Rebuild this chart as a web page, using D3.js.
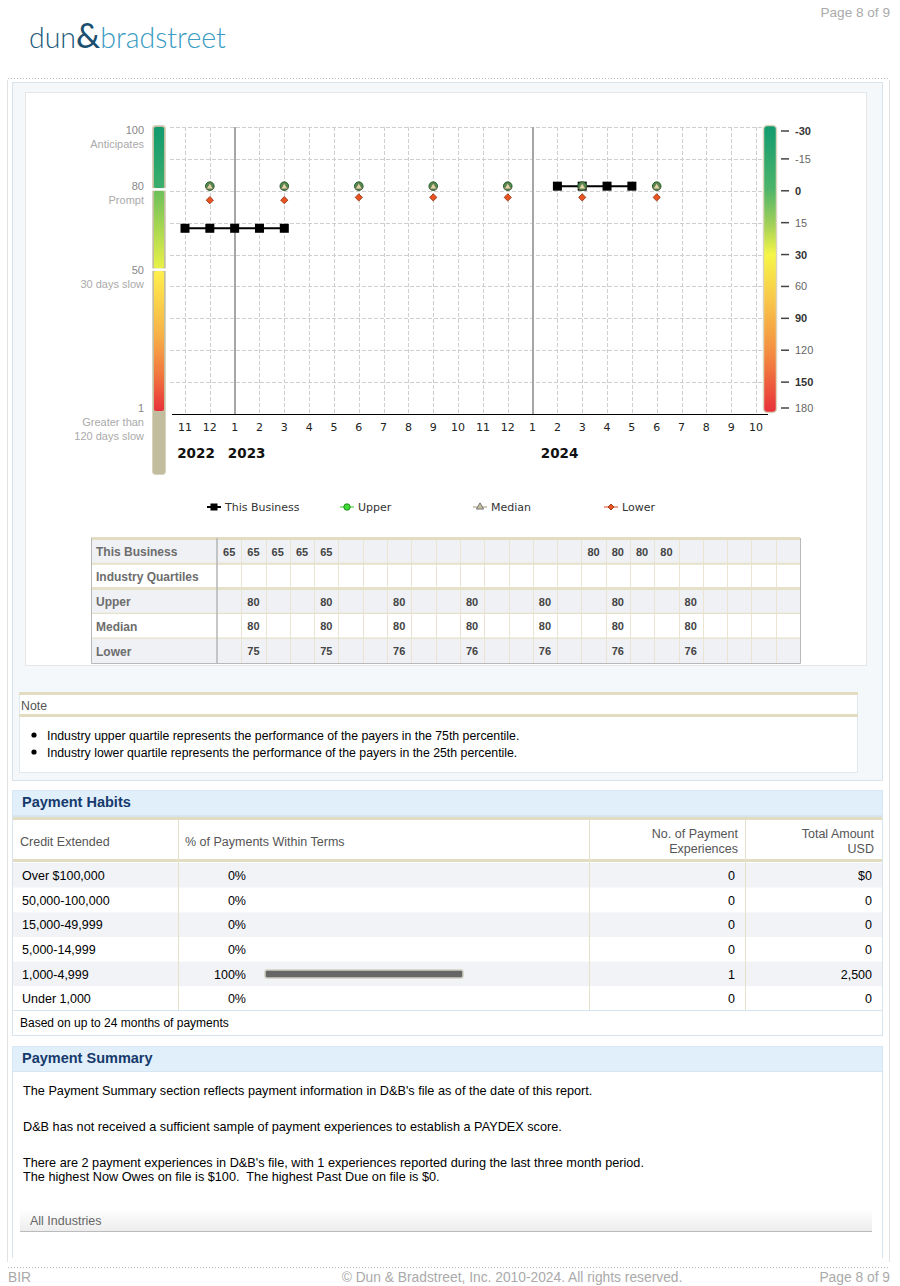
<!DOCTYPE html>
<html><head><meta charset="utf-8">
<script src="https://cdn.jsdelivr.net/npm/d3@7"></script>
<style>body{margin:0;background:#fff}svg{display:block}text{white-space:pre}</style>
</head><body><svg id="c" width="900" height="1286"></svg>
<script>
// ---------- DATA ----------
const months = ["11","12","1","2","3","4","5","6","7","8","9","10","11","12","1","2","3","4","5","6","7","8","9","10"];
const yearLabels = [{label:"2022", start:0},{label:"2023", start:2},{label:"2024", start:14}];
const businessScores = [65,65,65,65,65,null,null,null,null,null,null,null,null,null,null,80,80,80,80,null,null,null,null,null];
const upperQuartile  = [null,80,null,null,80,null,null,80,null,null,80,null,null,80,null,null,80,null,null,80,null,null,null,null];
const medianQuartile = [null,80,null,null,80,null,null,80,null,null,80,null,null,80,null,null,80,null,null,80,null,null,null,null];
const lowerQuartile  = [null,75,null,null,75,null,null,76,null,null,76,null,null,76,null,null,76,null,null,76,null,null,null,null];
const paydexLabels = [{v:100,name:["Anticipates"]},{v:80,name:["Prompt"]},{v:50,name:["30 days slow"]},{v:1,name:["Greater than","120 days slow"]}];
const daysTicks = ["-30","-15","0","15","30","60","90","120","150","180"];
const daysBold = ["-30","0","30","90","150"];
const legendLabels = ["This Business","Upper","Median","Lower"];
const tableRowLabels = ["This Business","Industry Quartiles","Upper","Median","Lower"];
const noteLines = ["Industry upper quartile represents the performance of the payers in the 75th percentile.",
                   "Industry lower quartile represents the performance of the payers in the 25th percentile."];
const creditRanges = ["Over $100,000","50,000-100,000","15,000-49,999","5,000-14,999","1,000-4,999","Under 1,000"];
const pctWithinTerms = [0,0,0,0,100,0];
const paymentCounts = [0,0,0,0,1,0];
const totalAmounts = ["$0","0","0","0","2,500","0"];
const summaryLines = ["The Payment Summary section reflects payment information in D&B's file as of the date of this report.",
  "D&B has not received a sufficient sample of payment experiences to establish a PAYDEX score.",
  "There are 2 payment experiences in D&B's file, with 1 experiences reported during the last three month period.",
  "The highest Now Owes on file is $100.  The highest Past Due on file is $0."];

// ---------- SETUP ----------
const ARIAL = "'Liberation Sans', Arial, sans-serif";
const VERD = "'DejaVu Sans', Verdana, sans-serif";
const svg = d3.select("#c");
const defs = svg.append("defs");
function lg(id, stops){
  const g = defs.append("linearGradient").attr("id",id).attr("x1",0).attr("y1",0).attr("x2",0).attr("y2",1);
  stops.forEach(s=>g.append("stop").attr("offset",s[0]).attr("stop-color",s[1]));
}
lg("gA",[[0,"#129a6f"],[1,"#3dae6b"]]);
lg("gB",[[0,"#6cbf5a"],[1,"#e9f247"]]);
lg("gC",[[0,"#fff04c"],[0.45,"#f7b247"],[0.75,"#f1753e"],[1,"#e8303a"]]);
lg("gR",[[0,"#129a6f"],[0.22,"#4cb46a"],[0.35,"#a6d257"],[0.45,"#f6f646"],[0.6,"#f9c94a"],[0.8,"#f38a40"],[1,"#e8303a"]]);
lg("gAll",[[0,"#ffffff"],[1,"#ededed"]]);

// ---------- PAGE FRAME ----------
svg.append("text").attr("x",890).attr("y",17).attr("text-anchor","end").attr("font-family",ARIAL).attr("font-size",13.6).attr("fill","#aaa").text("Page 8 of 9");
const logo = svg.append("text").attr("x",29).attr("y",48).attr("font-family","Lato, 'Open Sans', sans-serif").attr("font-weight",300).attr("font-size",28.5);
logo.append("tspan").attr("fill","#1d5a7b").text("dun");
logo.append("tspan").attr("fill","#1b4f70").attr("font-size",34).attr("font-weight",400).text("&");
logo.append("tspan").attr("fill","#3a9cc2").text("bradstreet");

svg.append("line").attr("x1",8).attr("x2",890).attr("y1",78.5).attr("y2",78.5).attr("stroke","#bbb").attr("stroke-dasharray","1,2");
svg.append("line").attr("x1",8).attr("x2",890).attr("y1",1267.5).attr("y2",1267.5).attr("stroke","#bbb").attr("stroke-dasharray","1,2");
svg.append("line").attr("x1",7.5).attr("x2",7.5).attr("y1",80).attr("y2",1262).attr("stroke","#e2e2e2");
svg.append("line").attr("x1",889.5).attr("x2",889.5).attr("y1",80).attr("y2",1262).attr("stroke","#e2e2e2");

// ---------- CHART SECTION ----------
svg.append("rect").attr("x",12.5).attr("y",82.5).attr("width",870).attr("height",698).attr("fill","#f4f8fb").attr("stroke","#d7e4ee");
svg.append("rect").attr("x",25.5).attr("y",92.5).attr("width",841).attr("height",573).attr("fill","#fff").attr("stroke","#e6e6e6");

const x = d3.scalePoint().domain(d3.range(months.length)).range([185,756]);
const yPay = d3.scaleLinear().domain([1,100]).range([408,130]);
const yDays = d3.scalePoint().domain(daysTicks).range([127,414]);
const g = svg.append("g");

// horizontal grid
g.selectAll(".hg").data(daysTicks.slice(0,-1)).join("line")
  .attr("x1",170).attr("x2",762).attr("y1",d=>Math.round(yDays(d))+0.5).attr("y2",d=>Math.round(yDays(d))+0.5)
  .attr("stroke","#cfcfcf").attr("stroke-dasharray","4,2");
// vertical grid
const yearStarts = yearLabels.slice(1).map(d=>d.start);
g.selectAll(".vg").data(d3.range(months.length).filter(i=>!yearStarts.includes(i))).join("line")
  .attr("x1",i=>Math.round(x(i))+0.5).attr("x2",i=>Math.round(x(i))+0.5).attr("y1",127).attr("y2",414)
  .attr("stroke","#cfcfcf").attr("stroke-dasharray","4,2");
g.selectAll(".yb").data(yearStarts).join("line")
  .attr("x1",i=>Math.round(x(i))).attr("x2",i=>Math.round(x(i))).attr("y1",127).attr("y2",414)
  .attr("stroke","#a6a6a6").attr("stroke-width",2);
// x axis
g.append("line").attr("x1",172).attr("x2",768).attr("y1",414.5).attr("y2",414.5).attr("stroke","#000");
g.selectAll(".ml").data(months).join("text")
  .attr("x",(d,i)=>x(i)).attr("y",431).attr("text-anchor","middle")
  .attr("font-family",VERD).attr("font-size",11).attr("fill","#222").text(d=>d);
const yearNudge = [11,12,27];
g.selectAll(".yl").data(yearLabels).join("text")
  .attr("x",(d,i)=>x(d.start)+yearNudge[i]).attr("y",458).attr("text-anchor","middle")
  .attr("font-family",VERD).attr("font-weight","bold").attr("font-size",13.5).attr("fill","#111").text(d=>d.label);

// left colour bar
g.append("rect").attr("x",152.5).attr("y",125.5).attr("width",13).attr("height",349).attr("rx",3).attr("fill","#c2bd9f").attr("stroke","#d6d2bb");
const sepA = yPay(80)+3, sepB = yPay(50)-1;
const segs = [[127,sepA-1,"gA"],[sepA+1.5,sepB-1,"gB"],[sepB+1.5,411,"gC"]];
g.selectAll(".seg").data(segs).join("rect")
  .attr("x",154).attr("width",10).attr("y",d=>d[0]).attr("height",d=>d[1]-d[0]).attr("rx",2).attr("fill",d=>`url(#${d[2]})`);
g.selectAll(".sep").data([sepA,sepB]).join("line")
  .attr("x1",152).attr("x2",166).attr("y1",d=>d+0.25).attr("y2",d=>d+0.25).attr("stroke","#fff").attr("stroke-width",2.5);

// left labels
const pl = g.selectAll(".pl").data(paydexLabels).join("g");
pl.append("text").attr("x",144).attr("y",d=>yPay(d.v)+4).attr("text-anchor","end")
  .attr("font-family",ARIAL).attr("font-size",11).attr("fill","#888").text(d=>d.v);
pl.each(function(d){
  d3.select(this).selectAll(".nm").data(d.name).join("text")
    .attr("x",144).attr("y",(n,j)=>yPay(d.v)+18+j*14).attr("text-anchor","end")
    .attr("font-family",ARIAL).attr("font-size",11).attr("fill","#aaa").text(n=>n);
});

// right colour bar + days axis
g.append("rect").attr("x",763.5).attr("y",125.5).attr("width",13).attr("height",287).attr("rx",4)
  .attr("fill","url(#gR)").attr("stroke","#d9d5bd").attr("stroke-width",1.5);
const dy = d=>Math.max(131,Math.min(408,yDays(d)));
g.selectAll(".rt").data(daysTicks).join("line")
  .attr("x1",781).attr("x2",789).attr("y1",d=>dy(d)).attr("y2",d=>dy(d)).attr("stroke","#444").attr("stroke-width",1.5);
g.selectAll(".rl").data(daysTicks).join("text")
  .attr("x",795).attr("y",d=>dy(d)+4).attr("font-family",ARIAL).attr("font-size",11)
  .attr("font-weight",d=>daysBold.includes(d)?"bold":"normal").attr("fill",d=>daysBold.includes(d)?"#333":"#666").text(d=>d);

// business line
const line = d3.line().defined(d=>d!=null).x((d,i)=>x(i)).y(d=>yPay(d));
g.append("path").attr("d",line(businessScores)).attr("fill","none").attr("stroke","#000").attr("stroke-width",2);
g.selectAll(".bs").data(businessScores.map((v,i)=>({v,i})).filter(d=>d.v!=null)).join("rect")
  .attr("x",d=>x(d.i)-4.5).attr("y",d=>yPay(d.v)-4.5).attr("width",9).attr("height",9).attr("fill","#000");
// quartile markers
const pts = arr=>arr.map((v,i)=>({v,i})).filter(d=>d.v!=null);
g.selectAll(".up").data(pts(upperQuartile)).join("circle")
  .attr("cx",d=>x(d.i)).attr("cy",d=>yPay(d.v)).attr("r",4.3).attr("fill","#4c8d4c").attr("stroke","#2c5c30").attr("stroke-width",1);
g.selectAll(".md").data(pts(medianQuartile)).join("path")
  .attr("d",d3.symbol(d3.symbolTriangle,22)).attr("transform",d=>`translate(${x(d.i)},${yPay(d.v)+0.8})`)
  .attr("fill","#ddd5a8").attr("stroke","#6b6a4c").attr("stroke-width",0.8);
g.selectAll(".lw").data(pts(lowerQuartile)).join("path")
  .attr("d",d3.symbol(d3.symbolSquare,26)).attr("transform",d=>`translate(${x(d.i)},${yPay(d.v)}) rotate(45)`)
  .attr("fill","#ea521f").attr("stroke","#8e3516").attr("stroke-width",0.8);

// legend
const legX = [207,340,473,604];
const leg = g.selectAll(".lg").data(legendLabels).join("g").attr("transform",(d,i)=>`translate(${legX[i]},507)`);
const legCol = ["#000","#33cc22","#a09a78","#e0481a"];
leg.append("line").attr("x1",0).attr("x2",14).attr("stroke",(d,i)=>legCol[i]).attr("stroke-width",(d,i)=>i==0?2:1);
leg.each(function(d,i){
  const s = d3.select(this);
  if(i==0) s.append("rect").attr("x",3.5).attr("y",-3.5).attr("width",7).attr("height",7).attr("fill","#000");
  if(i==1) s.append("circle").attr("cx",7).attr("r",3.2).attr("fill","#3ddd33").attr("stroke","#1f8a1f");
  if(i==2) s.append("path").attr("d",d3.symbol(d3.symbolTriangle,22)).attr("transform","translate(7,0)").attr("fill","#c8c2a2").attr("stroke","#777");
  if(i==3) s.append("path").attr("d",d3.symbol(d3.symbolSquare,18)).attr("transform","translate(7,0) rotate(45)").attr("fill","#ea521f").attr("stroke","#8e3516").attr("stroke-width",0.8);
});
leg.append("text").attr("x",18).attr("y",4).attr("font-family",VERD).attr("font-size",11).attr("fill","#333").text(d=>d);

// chart data table
const tRows = [businessScores,[],upperQuartile,medianQuartile,lowerQuartile];
const ty = d3.scaleBand().domain(d3.range(tableRowLabels.length)).range([539,663]);
const tx = d3.scaleBand().domain(d3.range(months.length)).range([217,800]);
const tb = g.append("g");
tb.selectAll(".tr").data(tableRowLabels).join("rect")
  .attr("x",91).attr("width",709).attr("y",(d,i)=>ty(i)).attr("height",ty.bandwidth())
  .attr("fill",(d,i)=>i%2==0?"#eff1f5":"#fff");
tb.selectAll(".tc").data(d3.range(1,months.length)).join("line")
  .attr("x1",i=>Math.round(tx(i))+0.5).attr("x2",i=>Math.round(tx(i))+0.5).attr("y1",538).attr("y2",663).attr("stroke","#e9e5d2");
tb.selectAll(".ts").data(d3.range(1,tableRowLabels.length)).join("line")
  .attr("x1",91).attr("x2",800).attr("y1",i=>ty(i)).attr("y2",i=>ty(i))
  .attr("stroke","#e6e1c8").attr("stroke-width",i=>i==2?3:i==1?2:1.2);
tb.append("line").attr("x1",91).attr("x2",800).attr("y1",538.5).attr("y2",538.5).attr("stroke","#e2ddc2").attr("stroke-width",3);
tb.append("line").attr("x1",217).attr("x2",217).attr("y1",538).attr("y2",663).attr("stroke","#b5b5b5").attr("stroke-width",1.5);
tb.append("path").attr("d","M91.5,538V663.5H800.5V538").attr("fill","none").attr("stroke","#b8b8b8");
tb.selectAll(".tl").data(tableRowLabels).join("text")
  .attr("x",96).attr("y",(d,i)=>ty(i)+ty.bandwidth()/2+5).attr("font-family",ARIAL).attr("font-weight","bold")
  .attr("font-size",12).attr("fill","#6d6d6d").text(d=>d);
tRows.forEach((arr,r)=>{
  tb.selectAll(".tv"+r).data(pts(arr)).join("text")
    .attr("x",d=>tx(d.i)+tx.bandwidth()/2).attr("y",ty(r)+ty.bandwidth()/2+4.5).attr("text-anchor","middle")
    .attr("font-family",ARIAL).attr("font-weight","bold").attr("font-size",11).attr("fill","#444").text(d=>d.v);
});

// note box
svg.append("rect").attr("x",19.5).attr("y",692.5).attr("width",838).attr("height",80).attr("fill","#fff").attr("stroke","#e1e9f0");
svg.append("rect").attr("x",19).attr("y",692).attr("width",839).attr("height",3).attr("fill","#e2dcc1");
svg.append("rect").attr("x",19).attr("y",714).attr("width",839).attr("height",3).attr("fill","#e2dcc1");
svg.append("text").attr("x",21).attr("y",710).attr("font-family",ARIAL).attr("font-size",12.3).attr("fill","#555").text("Note");
const nl = svg.selectAll(".nl").data(noteLines).join("g").attr("transform",(d,i)=>`translate(0,${735+i*17})`);
nl.append("circle").attr("cx",34).attr("cy",0).attr("r",2.6).attr("fill","#000");
nl.append("text").attr("x",47).attr("y",4.5).attr("font-family",ARIAL).attr("font-size",12.3).attr("fill","#000").text(d=>d);

// ---------- PAYMENT HABITS ----------
function header(y, t){
  svg.append("rect").attr("x",12.5).attr("y",y+0.5).attr("width",870).attr("height",25).attr("fill","#e1effb").attr("stroke","#d6e6f4");
  svg.append("text").attr("x",22).attr("y",y+17).attr("font-family",ARIAL).attr("font-weight","bold").attr("font-size",14.5).attr("fill","#153a6b").text(t);
}
header(790,"Payment Habits");
svg.append("rect").attr("x",12.5).attr("y",816.5).attr("width",870).attr("height",219).attr("fill","#fff").attr("stroke","#d7e4ee");
const hy = d3.scaleBand().domain(d3.range(creditRanges.length)).range([863,1011]);
svg.selectAll(".hr").data(creditRanges).join("rect")
  .attr("x",13).attr("width",869).attr("y",(d,i)=>hy(i)).attr("height",hy.bandwidth()).attr("fill",(d,i)=>i%2==0?"#f1f3f7":"#fff");
svg.append("rect").attr("x",13).attr("y",817).attr("width",869).attr("height",3).attr("fill","#e2dcc1");
svg.append("rect").attr("x",13).attr("y",859).attr("width",869).attr("height",3).attr("fill","#e2dcc1");
svg.selectAll(".hc").data([178.5,589.5,745.5]).join("line")
  .attr("x1",d=>d).attr("x2",d=>d).attr("y1",820).attr("y2",1010).attr("stroke","#e6e1c9");
const hdr = svg.append("g").attr("font-family",ARIAL).attr("font-size",12.5).attr("fill","#555");
hdr.append("text").attr("x",20).attr("y",846).text("Credit Extended");
hdr.append("text").attr("x",185).attr("y",846).text("% of Payments Within Terms");
hdr.append("text").attr("x",738).attr("y",838).attr("text-anchor","end").text("No. of Payment");
hdr.append("text").attr("x",738).attr("y",853).attr("text-anchor","end").text("Experiences");
hdr.append("text").attr("x",874).attr("y",838).attr("text-anchor","end").text("Total Amount");
hdr.append("text").attr("x",874).attr("y",853).attr("text-anchor","end").text("USD");
const bw = d3.scaleLinear().domain([0,100]).range([0,198]);
const rowG = svg.selectAll(".hrow").data(creditRanges).join("g").attr("transform",(d,i)=>`translate(0,${hy(i)+hy.bandwidth()/2})`)
  .attr("font-family",ARIAL).attr("font-size",12.5).attr("fill","#000");
rowG.append("text").attr("x",22).attr("y",4.5).text(d=>d);
rowG.append("text").attr("x",246).attr("y",4.5).attr("text-anchor","end").text((d,i)=>pctWithinTerms[i]+"%");
rowG.append("text").attr("x",735).attr("y",4.5).attr("text-anchor","end").text((d,i)=>paymentCounts[i]);
rowG.append("text").attr("x",872).attr("y",4.5).attr("text-anchor","end").text((d,i)=>totalAmounts[i]);
rowG.filter((d,i)=>pctWithinTerms[i]>0).append("rect")
  .attr("x",265).attr("y",-4).attr("height",8).attr("rx",2)
  .attr("width",(d)=>bw(pctWithinTerms[creditRanges.indexOf(d)]))
  .attr("fill","#666").attr("stroke","#cfcfc4").attr("stroke-width",1.5);
svg.append("rect").attr("x",12.5).attr("y",1010.5).attr("width",870).attr("height",25).attr("fill","#fff").attr("stroke","#d7e4ee");
svg.append("text").attr("x",20).attr("y",1027).attr("font-family",ARIAL).attr("font-size",12).attr("fill","#000").text("Based on up to 24 months of payments");

// ---------- PAYMENT SUMMARY ----------
header(1046,"Payment Summary");
svg.append("line").attr("x1",12.5).attr("x2",12.5).attr("y1",1071).attr("y2",1258).attr("stroke","#d7e4ee");
svg.append("line").attr("x1",882.5).attr("x2",882.5).attr("y1",1071).attr("y2",1258).attr("stroke","#d7e4ee");
const sy = [1090,1126,1162,1176];
svg.selectAll(".sl").data(summaryLines).join("text")
  .attr("x",23).attr("y",(d,i)=>sy[i]+4.5).attr("font-family",ARIAL).attr("font-size",12.7).attr("fill","#000").text(d=>d);
svg.append("rect").attr("x",20).attr("y",1209).attr("width",852).attr("height",22).attr("fill","url(#gAll)");
svg.append("line").attr("x1",20).attr("x2",872).attr("y1",1231.5).attr("y2",1231.5).attr("stroke","#bbb");
svg.append("text").attr("x",30).attr("y",1225).attr("font-family",ARIAL).attr("font-size",12.5).attr("fill","#666").text("All Industries");

// ---------- FOOTER ----------
const ft = svg.append("g").attr("font-family",ARIAL).attr("font-size",13.8).attr("fill","#aaa");
ft.append("text").attr("x",8).attr("y",1282).text("BIR");
ft.append("text").attr("x",512).attr("y",1282).attr("text-anchor","middle").text("© Dun & Bradstreet, Inc. 2010-2024. All rights reserved.");
ft.append("text").attr("x",890).attr("y",1282).attr("text-anchor","end").text("Page 8 of 9");
</script></body></html>
